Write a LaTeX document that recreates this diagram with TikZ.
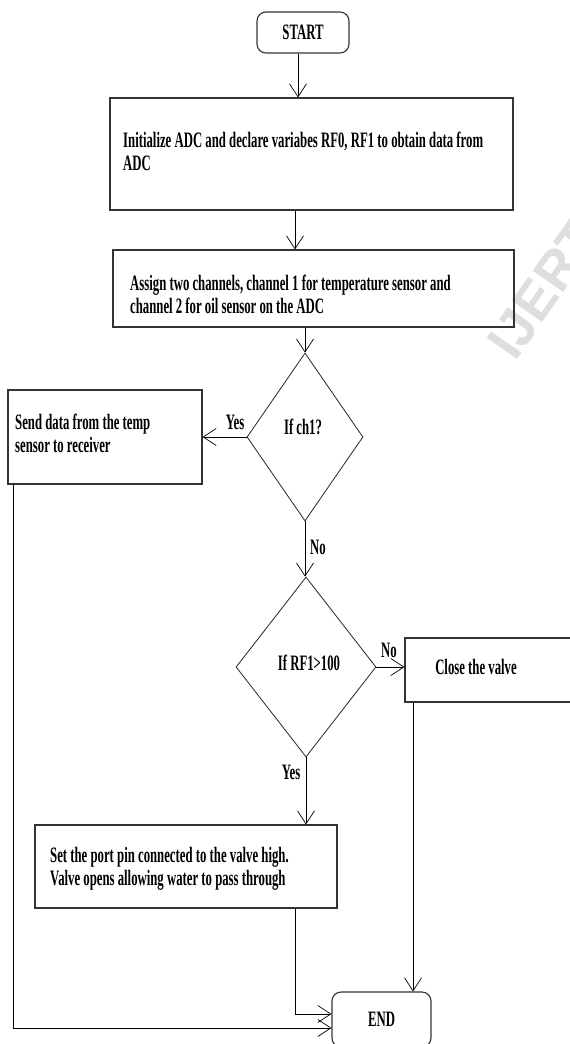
\documentclass[tikz,border=0pt]{standalone}
\usepackage{fontspec}
\setmainfont{Liberation Serif}[FakeStretch=0.58]
\newfontfamily\wmfont{Liberation Sans}
\usetikzlibrary{shapes.geometric,arrows.meta}
\begin{document}
\begin{tikzpicture}[x=1pt,y=-1pt,
  box/.style={draw=black!80,line width=1.1pt,inner sep=0pt},
  rbox/.style={box,rounded corners=9pt,font=\fontsize{22}{23}\selectfont\bfseries},
  dia/.style={draw=black!85,line width=0.8pt,diamond,inner sep=0pt},
  txt/.style={font=\fontsize{22}{23}\selectfont\bfseries,inner sep=0pt,align=left,anchor=north west},
  lbl/.style={font=\fontsize{22}{23}\selectfont\bfseries,inner sep=0pt},
  conn/.style={line width=0.8pt,-{Straight Barb[length=13pt,width=17pt,line width=0.7pt]}}]
\useasboundingbox (0,0) rectangle (570,1044);
\fill[white] (0,0) rectangle (570,1044);
% watermark
\node[rotate=55,text=black!13,font=\wmfont\bfseries\fontsize{54}{54}\selectfont,anchor=west,inner sep=0pt] (wm) at (500,352) {IJERT};
% nodes
\node[rbox,minimum width=92pt,minimum height=41pt] (start) at (303,32.5) {START};
\node[box,minimum width=403pt,minimum height=112pt] (b1) at (311.5,154) {};
\node[txt] (t1) at (123,132) {Initialize ADC and declare variabes RF0, RF1 to obtain data from\\ADC};
\node[box,minimum width=401pt,minimum height=77pt] (b2) at (313.5,288.5) {};
\node[txt] (t2) at (130,275) {Assign two channels, channel 1 for temperature sensor and\\channel 2 for oil sensor on the ADC};
\node[dia,minimum width=116pt,minimum height=168pt] (d1) at (305,437) {};
\node[lbl] (td1) at (303,427) {If ch1?};
\node[box,minimum width=194pt,minimum height=94pt] (b3) at (105,437) {};
\node[txt] (t3) at (15,414) {Send data from the temp\\sensor to receiver};
\node[dia,minimum width=140pt,minimum height=180pt] (d2) at (306,667) {};
\node[lbl] (td2) at (309,663) {If RF1>100};
\node[box,minimum width=170pt,minimum height=64pt] (close) at (490,670) {};
\node[lbl] (tc) at (476,667) {Close the valve};
\node[box,minimum width=302pt,minimum height=83pt] (b4) at (186,866.5) {};
\node[txt] (t4) at (50,847) {Set the port pin connected to the valve high.\\Valve opens allowing water to pass through};
\node[rbox,minimum width=99pt,minimum height=55pt] (end) at (381.5,1019.5) {END};
% connectors
\draw[conn] ([xshift=-5pt]start.south) -- ([xshift=-5pt]start.south |- b1.north);
\draw[conn] ([xshift=-16.5pt]b1.south) -- ([xshift=-16.5pt]b1.south |- b2.north);
\draw[conn] (d1.north |- b2.south) -- (d1.north);
\draw[conn] (d1.west) -- (b3.east);
\node[lbl] (yes1) at (235,422) {Yes};
\draw[conn] (d1.south) -- (d1.south |- d2.north);
\node[lbl] (no1) at (318,547) {No};
\draw[conn] (d2.east) -- (d2.east -| close.west);
\node[lbl] (no2) at (389,650) {No};
\draw[conn] (d2.south) -- (d2.south |- b4.north);
\node[lbl] (yes2) at (291,772) {Yes};
\draw[conn] ([xshift=-42pt]b4.south east) |- ([yshift=5.5pt]end.west);
\draw[conn] ([xshift=-92pt]b3.south) |- ([yshift=-8.5pt]end.west);
\draw[conn] ([xshift=-77pt]close.south) -- ([xshift=-77pt]close.south |- end.north);
\end{tikzpicture}
\end{document}
